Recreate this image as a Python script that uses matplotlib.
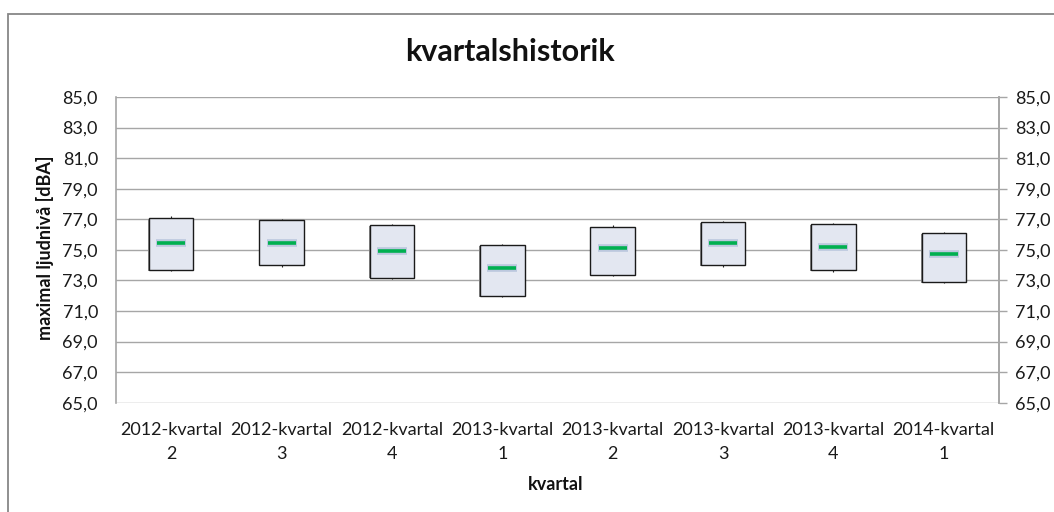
import matplotlib.pyplot as plt
from matplotlib.patches import Rectangle
from matplotlib.ticker import FuncFormatter

# data (dBA)
kvartal = ['2012-kvartal\n2', '2012-kvartal\n3', '2012-kvartal\n4', '2013-kvartal\n1',
           '2013-kvartal\n2', '2013-kvartal\n3', '2013-kvartal\n4', '2014-kvartal\n1']
box_top = [77.07, 76.93, 76.60, 75.29, 76.47, 76.80, 76.67, 76.10]
box_bottom = [73.68, 73.98, 73.18, 71.98, 73.37, 73.98, 73.66, 72.87]
high = [77.20, 77.00, 76.70, 75.38, 76.60, 76.90, 76.78, 76.18]
low = [73.60, 73.90, 73.10, 71.90, 73.28, 73.90, 73.58, 72.83]
mean = [75.45, 75.45, 74.90, 73.83, 75.14, 75.45, 75.20, 74.72]

W, H = 1054, 512
fig = plt.figure(figsize=(W / 100, H / 100), dpi=100)
plt.rcParams['font.family'] = ['Lato', 'DejaVu Sans']

# outer chart border
fig.patches.append(Rectangle((8 / W, -0.05), 1.2, (H - 14) / H + 0.05,
                             transform=fig.transFigure, fill=False,
                             edgecolor='#878787', linewidth=1.3))

ax = fig.add_axes([116 / W, 1 - 402.7 / H, 883 / W, 305.7 / H])
x = list(range(len(kvartal)))

ax.vlines(x, low, high, color='#222222', linewidth=0.8, zorder=2)
heights = [t - b for t, b in zip(box_top, box_bottom)]
# thin grey shadow on the left/bottom edge, like excel
ax.bar([i - 0.006 for i in x], heights, bottom=[b - 0.04 for b in box_bottom], width=0.404,
       color='#8c8c8c', edgecolor='none', zorder=2)
ax.bar(x, heights, bottom=box_bottom, width=0.404, color='#E3E7F1',
       edgecolor='#1a1a1a', linewidth=1.0, zorder=3)
ax.plot(x, mean, linestyle='none', marker='_', markersize=22, markeredgewidth=5.5,
        color='#BCC8DE', zorder=4)
ax.plot(x, mean, linestyle='none', marker='_', markersize=19.5, markeredgewidth=2.6,
        color='#00B050', zorder=5)

ax.set_xlim(-0.5, len(kvartal) - 0.5)
ax.set_ylim(65, 85)
ax.set_yticks(range(65, 86, 2))
fmt = FuncFormatter(lambda v, p: f'{v:.1f}'.replace('.', ','))
ax.yaxis.set_major_formatter(fmt)
ax.grid(axis='y', color='#a6a6a6', linewidth=1.0, zorder=0)
ax.set_axisbelow(True)
for s in ['top', 'bottom']:
    ax.spines[s].set_visible(False)
for s in ['left', 'right']:
    ax.spines[s].set_color('#a6a6a6')
    ax.spines[s].set_linewidth(1.2)
ax.tick_params(axis='y', length=0, pad=13, labelsize=13, labelcolor='#1a1a1a')
ax.set_xticks(x)
ax.set_xticklabels(kvartal, fontsize=13, color='#1a1a1a', linespacing=1.6)
ax.tick_params(axis='x', length=0, pad=14)

ax2 = ax.twinx()
ax2.set_ylim(65, 85)
ax2.set_yticks(range(65, 86, 2))
ax2.yaxis.set_major_formatter(fmt)
for s in ['top', 'bottom', 'left']:
    ax2.spines[s].set_visible(False)
ax2.spines['right'].set_color('#a6a6a6')
ax2.spines['right'].set_linewidth(1.2)
ax2.tick_params(axis='y', direction='out', length=5.5, width=1, color='#a6a6a6',
                pad=6, labelsize=13, labelcolor='#1a1a1a')

fig.text(510 / W, 1 - 52 / H, 'kvartalshistorik', ha='center', va='center',
         fontsize=22, fontweight='bold', color='#111111')
fig.text(556 / W, 1 - 484 / H, 'kvartal', ha='center', va='center',
         fontsize=13, fontweight='bold', color='#111111')
fig.text(45 / W, 1 - 248 / H, 'maximal ljudnivå [dBA]', ha='center', va='center',
         rotation=90, fontsize=13, fontweight='bold', color='#111111')

fig.savefig('out.png', dpi=100)
